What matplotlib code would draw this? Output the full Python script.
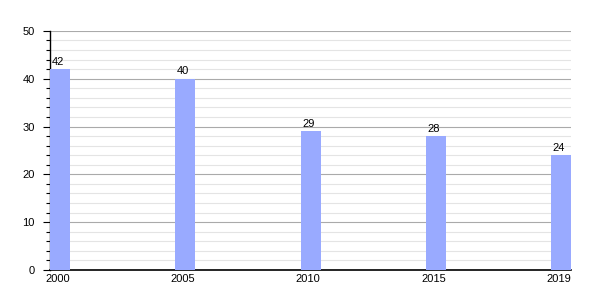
import matplotlib.pyplot as plt
from matplotlib.ticker import MultipleLocator

plt.rcParams["font.family"] = ["Liberation Sans", "DejaVu Sans"]

years = ["2000", "2005", "2010", "2015", "2019"]
values = [42, 40, 29, 28, 24]

fig = plt.figure(figsize=(6, 3), dpi=100)
ax = fig.add_axes([0.0833, 0.1, 0.869, 0.797])

x = list(range(len(years)))
bars = ax.bar(x, values, width=0.16, color="#99aaff", zorder=3)
for xi, v in zip(x, values):
    ax.text(xi - 0.02, v + 0.5, str(v), ha="center", va="bottom", fontsize=8, zorder=4)

ax.set_xlim(-0.08, 4.08)
ax.set_ylim(0, 50)
ax.yaxis.set_major_locator(MultipleLocator(10))
ax.yaxis.set_minor_locator(MultipleLocator(2))
ax.grid(which="major", axis="y", color="#aaaaaa", linewidth=0.8, zorder=1)
ax.grid(which="minor", axis="y", color="#e4e4e4", linewidth=0.8, zorder=0)
ax.set_xticks([xi - 0.02 for xi in x])
ax.set_xticklabels(years)
ax.tick_params(axis="x", length=0, labelsize=8, pad=3)
ax.tick_params(axis="y", which="major", length=5, labelsize=8, width=0.8, pad=6)
ax.tick_params(axis="y", which="minor", length=3, width=0.8)
for s in ["top", "right"]:
    ax.spines[s].set_visible(False)
ax.spines["left"].set_linewidth(1)
ax.spines["bottom"].set_linewidth(1.2)

fig.savefig("out.png", dpi=100)
